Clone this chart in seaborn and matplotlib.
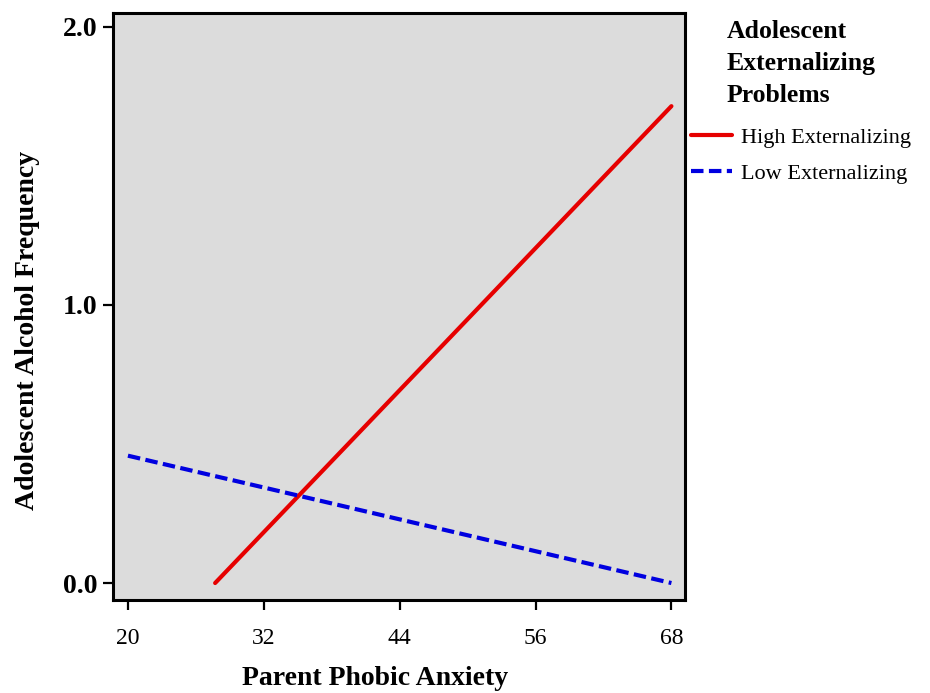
import matplotlib
matplotlib.use("Agg")
import matplotlib.pyplot as plt
import seaborn as sns
import pandas as pd

# Data
groups = ["High Externalizing", "Low Externalizing"]
high_x = [27.7, 68]
high_y = [0.0, 1.715]
low_x = [20, 68]
low_y = [0.458, 0.0]
x_ticks = [20, 32, 44, 56, 68]
y_ticks = [0.0, 1.0, 2.0]
y_tick_labels = ["0.0", "1.0", "2.0"]

df = pd.DataFrame({
    "x": high_x + low_x,
    "y": high_y + low_y,
    "group": [groups[0]] * len(high_x) + [groups[1]] * len(low_x),
})

sns.set_theme(style="white")
plt.rcParams["font.family"] = ["Liberation Serif", "DejaVu Serif"]
plt.rcParams["text.color"] = "black"
plt.rcParams["axes.labelcolor"] = "black"
plt.rcParams["xtick.color"] = "black"
plt.rcParams["ytick.color"] = "black"

fig = plt.figure(figsize=(9.3, 6.93), dpi=100)
ax = fig.add_axes([113 / 930, 1 - 600 / 693, 572 / 930, 587 / 693])
ax.set_facecolor("#dcdcdc")

sns.lineplot(
    data=df, x="x", y="y", hue="group", style="group",
    palette={groups[0]: "#e60000", groups[1]: "#0000e0"},
    dashes={groups[0]: "", groups[1]: (3.0, 1.3)},
    linewidth=3.0, ax=ax, legend=True,
)

ax.set_xlim(18.68, 69.2)
ax.set_ylim(-0.061, 2.05)
ax.set_xticks(x_ticks)
ax.set_xticklabels([str(t) for t in x_ticks], fontsize=17)
ax.set_yticks(y_ticks)
ax.set_yticklabels(y_tick_labels, fontsize=20, fontweight="bold")

for s in ax.spines.values():
    s.set_visible(True)
    s.set_color("black")
    s.set_linewidth(2.2)

ax.tick_params(axis="both", which="major", direction="out", length=7,
               width=1.6, color="black", labelcolor="black",
               bottom=True, left=True)
ax.tick_params(axis="x", pad=13)
ax.tick_params(axis="y", pad=4)

ax.set_xlabel("Parent Phobic Anxiety", fontsize=20, fontweight="bold", color="black")
ax.set_ylabel("Adolescent Alcohol Frequency", fontsize=20, fontweight="bold", color="black")
ax.xaxis.set_label_coords(0.459, -0.112)
ax.yaxis.set_label_coords(-0.128, 0.46)

handles, labels = ax.get_legend_handles_labels()
leg = ax.legend(
    handles, labels,
    title="Adolescent\nExternalizing\nProblems",
    loc="upper left", bbox_to_anchor=(691 / 930, 1 - 20 / 693),
    bbox_transform=fig.transFigure, frameon=False,
    fontsize=16, title_fontproperties={"weight": "bold", "size": 18.5},
    handlelength=1.85, handletextpad=0.4, labelspacing=0.7, borderpad=0,
    borderaxespad=0, labelcolor="black",
)
leg.get_title().set_linespacing(1.5)
leg.get_title().set_color("black")
leg._legend_box.sep = 0.7 * 16 + 3.6
for line in leg.get_lines():
    line.set_linewidth(3.0)

fig.savefig("out.png", dpi=100)
